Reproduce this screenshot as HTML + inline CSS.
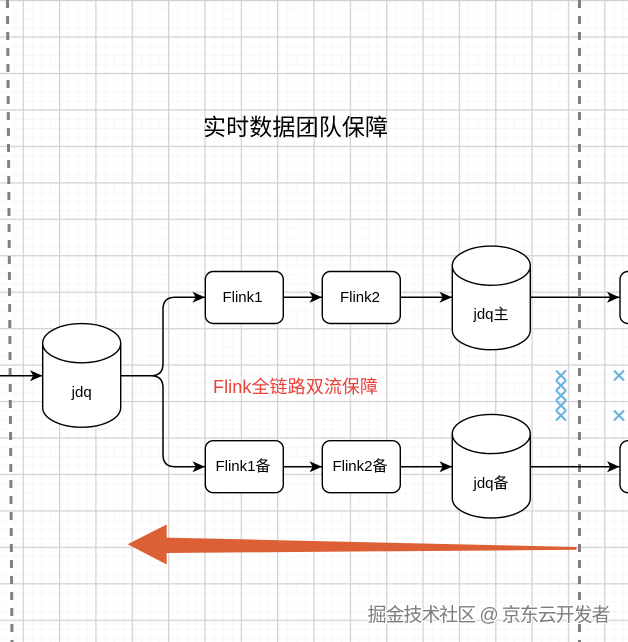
<!DOCTYPE html>
<html><head><meta charset="utf-8">
<style>html,body{margin:0;padding:0;background:#fff;overflow:hidden}svg{display:block;filter:blur(0.35px)}
text{font-family:"Liberation Sans","Noto Sans CJK SC",sans-serif}</style></head>
<body>
<svg xmlns="http://www.w3.org/2000/svg" width="628" height="642" viewBox="0 0 628 642">
<defs>
<pattern id="minorx" x="23" y="0" width="9.09" height="642" patternUnits="userSpaceOnUse"><rect width="1" height="642" fill="#f7f7f7"/></pattern>
<pattern id="minory" x="0" y="0.5" width="628" height="9.11" patternUnits="userSpaceOnUse"><rect width="628" height="1" fill="#f7f7f7"/></pattern>
<pattern id="majorx" x="22.6" y="0" width="36.35" height="642" patternUnits="userSpaceOnUse"><rect width="1.2" height="642" fill="#d2d2d2"/></pattern>
<pattern id="majory" x="0" y="0" width="628" height="36.45" patternUnits="userSpaceOnUse"><rect width="628" height="1.2" fill="#d2d2d2"/></pattern>
<marker id="a" viewBox="0 0 13 12" refX="12.5" refY="6" markerWidth="13" markerHeight="12" markerUnits="userSpaceOnUse" orient="auto"><path d="M0 0.5 L12.5 6 L0 11.5 L3.2 6 Z" fill="#000"/></marker>
</defs>
<rect width="628" height="642" fill="#fff"/>
<rect width="628" height="642" fill="url(#minorx)"/>
<rect width="628" height="642" fill="url(#minory)"/>
<rect width="628" height="642" fill="url(#majorx)"/>
<rect width="628" height="642" fill="url(#majory)"/>

<line x1="7.5" y1="0" x2="12" y2="642" stroke="#808080" stroke-width="3" stroke-dasharray="8 8"/>
<line x1="579.5" y1="0" x2="579.5" y2="642" stroke="#808080" stroke-width="3" stroke-dasharray="8 8"/>

<g fill="none" stroke="#000" stroke-width="1.5">
<path d="M0 375.7H42.5" marker-end="url(#a)"/>
<path d="M121 375.7H151Q163 375.7 163 363.7V309.3Q163 297.3 175 297.3H205" marker-end="url(#a)"/>
<path d="M121 375.7H151Q163 375.7 163 387.7V454.7Q163 466.7 175 466.7H205" marker-end="url(#a)"/>
<path d="M283.5 297.3H322" marker-end="url(#a)"/>
<path d="M400.5 297.3H452" marker-end="url(#a)"/>
<path d="M530.5 297.3H619.5" marker-end="url(#a)"/>
<path d="M283.5 466.7H322" marker-end="url(#a)"/>
<path d="M400.5 466.7H452" marker-end="url(#a)"/>
<path d="M530.5 466.7H619.5" marker-end="url(#a)"/>
</g>

<g fill="#fff" stroke="#000" stroke-width="1.4">
<rect x="205.3" y="271.5" width="78" height="52" rx="8"/>
<rect x="322.3" y="271.5" width="78" height="52" rx="8"/>
<rect x="205.3" y="440.7" width="78" height="52" rx="8"/>
<rect x="322.3" y="440.7" width="78" height="52" rx="8"/>
<rect x="620" y="271.5" width="30" height="52" rx="8"/>
<rect x="620" y="440.7" width="30" height="52" rx="8"/>
<path d="M42.7 343.2A39 19.6 0 0 1 120.7 343.2V407.6A39 19.6 0 0 1 42.7 407.6Z"/>
<path d="M42.7 343.2A39 19.6 0 0 0 120.7 343.2" fill="none"/>
<path d="M452.3 265.7A39 19.6 0 0 1 530.3 265.7V330.1A39 19.6 0 0 1 452.3 330.1Z"/>
<path d="M452.3 265.7A39 19.6 0 0 0 530.3 265.7" fill="none"/>
<path d="M452.3 434A39 19.6 0 0 1 530.3 434V498.4A39 19.6 0 0 1 452.3 498.4Z"/>
<path d="M452.3 434A39 19.6 0 0 0 530.3 434" fill="none"/>
</g>

<g font-size="15" fill="#000" text-anchor="middle">
<text x="242.5" y="302">Flink1</text>
<text x="360" y="302">Flink2</text>
<text x="243" y="471">Flink1备</text>
<text x="360" y="471">Flink2备</text>
<text x="81.7" y="397">jdq</text>
<text x="491" y="319">jdq主</text>
<text x="491" y="488">jdq备</text>
</g>
<text x="203" y="135" font-size="23" fill="#000" textLength="185">实时数据团队保障</text>
<text x="213" y="393" font-size="18" fill="#e8413a" textLength="165">Flink全链路双流保障</text>

<g stroke="#66b2e0" stroke-width="2" fill="none">
<path d="M556 370.5l10 10m0-10l-10 10M556 380.5l10 10m0-10l-10 10M556 390.5l10 10m0-10l-10 10M556 400.5l10 10m0-10l-10 10M556 410.5l10 10m0-10l-10 10"/>
<path d="M614 370.5l10 10m0-10l-10 10M614 410.5l10 10m0-10l-10 10"/>
</g>

<path d="M127.6 544.3L166.7 524.5V537.6L576.5 547V549.8L166.7 553V564.5Z" fill="#dd5f35"/>

<text x="367.5" y="621" font-size="19" fill="#fff" stroke="#fff" stroke-width="2" textLength="243">掘金技术社区 @ 京东云开发者</text>
<text x="367.5" y="621" font-size="19" fill="#7d7d7d" textLength="243">掘金技术社区 @ 京东云开发者</text>
</svg>
</body></html>
